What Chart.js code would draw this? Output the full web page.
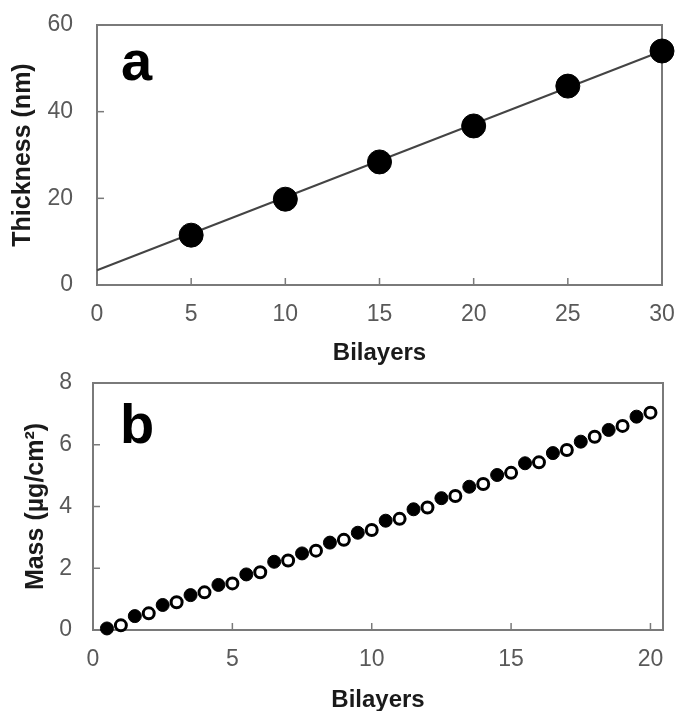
<!DOCTYPE html>
<html>
<head>
<meta charset="utf-8">
<script src="https://cdn.jsdelivr.net/npm/chart.js@4/dist/chart.umd.min.js"></script>
<style>
  html, body { margin: 0; padding: 0; background: #fff; }
  #wrap { position: relative; width: 680px; height: 711px; overflow: hidden; }
  canvas { position: absolute; left: 0; }
  #cA { top: 0; }
  #cB { top: 370px; }
  .panel { position: absolute; font-family: "Liberation Sans", Arial, sans-serif; font-weight: bold;
           font-size: 56px; line-height: 56px; color: #000; }
</style>
</head>
<body>
<div id="wrap">
  <canvas id="cA" width="680" height="370"></canvas>
  <canvas id="cB" width="680" height="341"></canvas>
  <div class="panel" style="left:121px; top:33px;">a</div>
  <div class="panel" style="left:120px; top:396px;">b</div>
</div>
<script>
// ---- Panel a data ----
const bilayersA = [5, 10, 15, 20, 25, 30];
const thicknessA = [11.5, 19.8, 28.4, 36.7, 45.9, 54.0];
const fitX = [0, 30];
const fitY = [3.4, 54.0];
const xTicksA = [0, 5, 10, 15, 20, 25, 30];
const yTicksA = [0, 20, 40, 60];

// ---- Panel b data ----
const halfBilayers = [0.5, 1.5, 2.5, 3.5, 4.5, 5.5, 6.5, 7.5, 8.5, 9.5, 10.5, 11.5, 12.5, 13.5, 14.5, 15.5, 16.5, 17.5, 18.5, 19.5];
const massHalf = [0.05, 0.45, 0.81, 1.13, 1.46, 1.80, 2.21, 2.48, 2.83, 3.15, 3.54, 3.91, 4.27, 4.64, 5.02, 5.40, 5.73, 6.10, 6.48, 6.91];
const fullBilayers = [1, 2, 3, 4, 5, 6, 7, 8, 9, 10, 11, 12, 13, 14, 15, 16, 17, 18, 19, 20];
const massFull = [0.15, 0.54, 0.90, 1.22, 1.51, 1.87, 2.25, 2.57, 2.92, 3.24, 3.60, 3.97, 4.34, 4.73, 5.09, 5.43, 5.83, 6.26, 6.61, 7.04];
const xTicksB = [0, 5, 10, 15, 20];
const yTicksB = [0, 2, 4, 6, 8];

const FONT = '"Liberation Sans", Arial, sans-serif';
const toXY = (xs, ys) => xs.map((x, i) => ({ x: x, y: ys[i] }));

const framePlugin = {
  id: 'frame',
  beforeDatasetsDraw(chart) {
    const { ctx, chartArea: { left, right, top, bottom }, scales: { x, y } } = chart;
    ctx.save();
    ctx.strokeStyle = '#7a7a7a';
    ctx.lineWidth = 2;
    ctx.strokeRect(left, top, right - left, bottom - top);
    ctx.lineWidth = 1.5;
    x.ticks.forEach(t => {
      const px = x.getPixelForValue(t.value);
      ctx.beginPath(); ctx.moveTo(px, bottom); ctx.lineTo(px, bottom - 7); ctx.stroke();
    });
    y.ticks.forEach(t => {
      const py = y.getPixelForValue(t.value);
      ctx.beginPath(); ctx.moveTo(left, py); ctx.lineTo(left + 7, py); ctx.stroke();
    });
    ctx.restore();
  }
};

function axisX(min, max, ticks, height, tickPad, titlePadBottom) {
  return {
    type: 'linear', min: min, max: max,
    grid: { display: false, drawTicks: false },
    border: { display: false },
    afterBuildTicks: s => { s.ticks = ticks.map(v => ({ value: v })); },
    afterFit: s => { s.height = height; s.paddingLeft = 0; s.paddingRight = 0; },
    ticks: { color: '#595959', padding: tickPad, font: { family: FONT, size: 23, lineHeight: 1 }, maxRotation: 0 },
    title: { display: true, text: 'Bilayers', color: '#1a1a1a',
             font: { family: FONT, size: 24, weight: 'bold', lineHeight: 1.2 },
             padding: { top: 0, bottom: titlePadBottom } }
  };
}
function axisY(min, max, ticks, width, title, titlePadTop, tickPad) {
  return {
    type: 'linear', min: min, max: max,
    grid: { display: false, drawTicks: false },
    border: { display: false },
    afterBuildTicks: s => { s.ticks = ticks.map(v => ({ value: v })); },
    afterFit: s => { s.width = width; s.paddingTop = 0; s.paddingBottom = 0; },
    ticks: { color: '#595959', padding: tickPad, font: { family: FONT, size: 23, lineHeight: 1 } },
    title: { display: true, text: title, color: '#1a1a1a',
             font: { family: FONT, size: 25, weight: 'bold', lineHeight: 1.2 },
             padding: { top: titlePadTop, bottom: 0 } }
  };
}

new Chart(document.getElementById('cA'), {
  type: 'scatter',
  data: {
    datasets: [
      { data: toXY(fitX, fitY), showLine: true, borderColor: '#444', borderWidth: 2,
        pointRadius: 0, clip: false, order: 2 },
      { data: toXY(bilayersA, thicknessA), backgroundColor: '#000', borderColor: '#000',
        borderWidth: 1, pointRadius: 12, clip: false, order: 1 }
    ]
  },
  options: {
    responsive: false, animation: false, devicePixelRatio: 1,
    layout: { padding: { top: 25, right: 18, left: 0, bottom: 0 } },
    plugins: { legend: { display: false }, tooltip: { enabled: false } },
    scales: {
      x: axisX(0, 30, xTicksA, 85, 18, 2),
      y: axisY(0, 60, yTicksA, 97, 'Thickness (nm)', 8, 24)
    }
  },
  plugins: [framePlugin]
});

new Chart(document.getElementById('cB'), {
  type: 'scatter',
  data: {
    datasets: [
      { data: toXY(halfBilayers, massHalf), backgroundColor: '#000', borderColor: '#000',
        borderWidth: 1, pointRadius: 6.5, clip: false },
      { data: toXY(fullBilayers, massFull), backgroundColor: '#fff', borderColor: '#000',
        borderWidth: 3, pointRadius: 5.5, clip: false }
    ]
  },
  options: {
    responsive: false, animation: false, devicePixelRatio: 1,
    layout: { padding: { top: 13, right: 17, left: 0, bottom: 0 } },
    plugins: { legend: { display: false }, tooltip: { enabled: false } },
    scales: {
      x: axisX(0, 20.45, xTicksB, 81, 18, -4),
      y: axisY(0, 8, yTicksB, 93, 'Mass (µg/cm²)', 21, 21)
    }
  },
  plugins: [framePlugin]
});
</script>
</body>
</html>
